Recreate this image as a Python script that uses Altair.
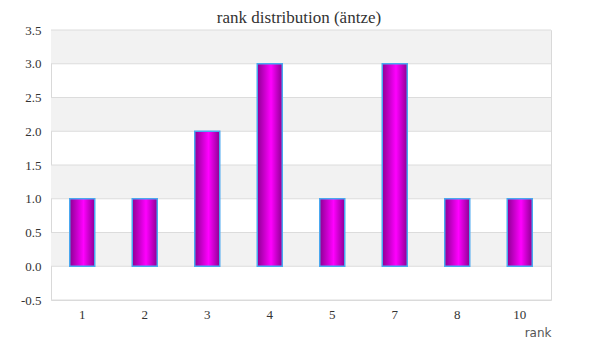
import altair as alt
import pandas as pd

title_text = ["rank distribution (äntze)"]
ranks = ["1", "2", "3", "4", "5", "7", "8", "10"]
counts = [1, 1, 2, 3, 1, 3, 1, 1]
band_lo = [3.0, 2.0, 1.0, 0.0]
band_hi = [3.5, 2.5, 1.5, 0.5]
y_ticks = [-0.5, 0, 0.5, 1.0, 1.5, 2.0, 2.5, 3.0, 3.5]

df = pd.DataFrame({"rank": ranks, "count": counts})
bands = pd.DataFrame({"lo": band_lo, "hi": band_hi})

yscale = alt.Scale(domain=[-0.5, 3.5], nice=False, zero=False)
yaxis = alt.Axis(
    title=None, values=y_ticks, ticks=False, domain=False, grid=False,
    labelExpr="datum.value < 0 ? '-' + format(-datum.value, '.1f') : format(datum.value, '.1f')",
    labelFont="Liberation Serif", labelFontSize=13, labelColor="#333333",
    labelPadding=10,
)

band_layer = alt.Chart(bands).mark_rect(color="#f2f2f2").encode(
    x=alt.value(0), x2=alt.value(500),
    y=alt.Y("lo:Q", scale=yscale, axis=yaxis),
    y2="hi:Q",
)

grid_layer = alt.Chart(pd.DataFrame({"v": y_ticks})).mark_rule(color="#dcdcdc", strokeWidth=1).encode(
    y=alt.Y("v:Q", scale=yscale, axis=yaxis),
    x=alt.value(0), x2=alt.value(500),
)

grad = alt.Gradient(
    gradient="linear",
    stops=[
        alt.GradientStop(color="#8e0093", offset=0),
        alt.GradientStop(color="#ff00ff", offset=0.55),
        alt.GradientStop(color="#8e0093", offset=1),
    ],
    x1=0, x2=1, y1=0, y2=0,
)

bars = alt.Chart(df).mark_bar(
    color=grad, stroke="#4aa8f0", strokeWidth=1.5
).encode(
    x=alt.X(
        "rank:N", sort=ranks,
        scale=alt.Scale(paddingInner=0.6, paddingOuter=0.3),
        axis=alt.Axis(
            title="rank", labelAngle=0, ticks=False, domain=False,
            labelFont="Liberation Serif", labelFontSize=13, labelColor="#333333",
            labelPadding=8,
            titleFont="DejaVu Sans", titleFontSize=12, titleFontWeight="normal",
            titleColor="#555555", titleAnchor="end", titleAlign="right",
            titlePadding=6,
        ),
    ),
    y=alt.Y("count:Q", scale=yscale, axis=yaxis),
)

title_layer = alt.Chart(pd.DataFrame({"t": title_text})).mark_text(
    font="Liberation Serif", fontSize=17, color="#333333",
    align="center", baseline="alphabetic",
).encode(
    text="t:N",
    x=alt.value(248),
    y=alt.value(-7),
)

chart = alt.layer(band_layer, grid_layer, bars, title_layer).properties(
    width=500, height=270,
    autosize=alt.AutoSizeParams(type="none"),
    padding={"left": 43, "top": 22, "right": 40, "bottom": 40},
).configure_view(stroke="#d9d9d9", strokeWidth=1)

chart.save("out.html", embed_options={"renderer": "svg", "actions": False})
